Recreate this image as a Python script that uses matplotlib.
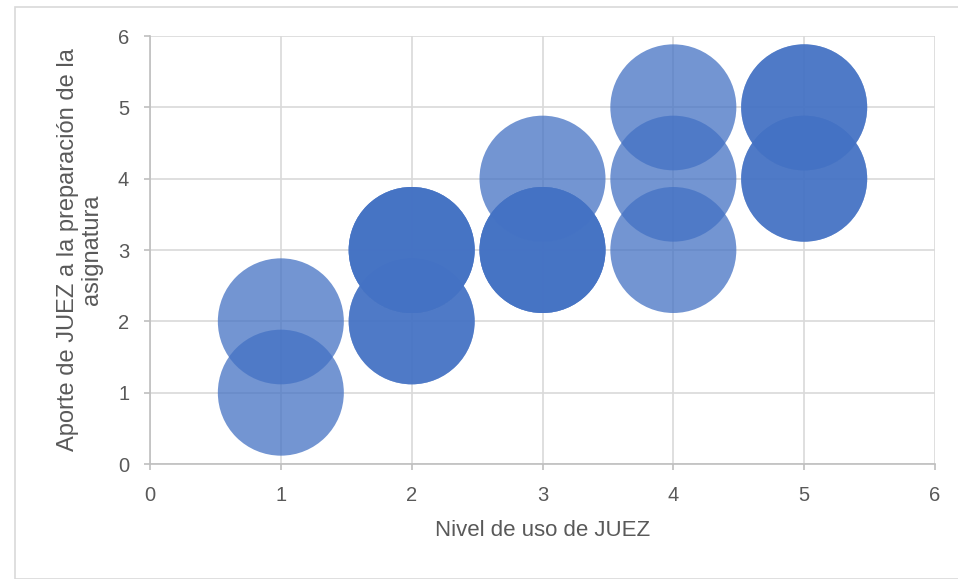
import matplotlib
matplotlib.use("Agg")
import matplotlib.pyplot as plt
from matplotlib.patches import Rectangle

# survey answers: usage level vs. contribution (repeated answers stack up)
nivel_uso = [1, 1, 2, 2, 2, 2, 2, 3, 3, 3, 3, 4, 4, 4, 5, 5, 5, 5]
aporte = [1, 2, 2, 2, 3, 3, 3, 3, 3, 3, 4, 3, 4, 5, 4, 4, 5, 5]
tamano = [1] * len(nivel_uso)

ticks = [0, 1, 2, 3, 4, 5, 6]
gris = "#595959"

plt.rcParams["font.family"] = ["Liberation Sans", "DejaVu Sans"]

fig = plt.figure(figsize=(9.58, 5.79), dpi=100)
ax = fig.add_axes([150 / 958, 1 - 464 / 579, 785 / 958, 428 / 579])

# bubble radius ~63 px -> area in points^2
r_pt = 63 * 72 / 100
ax.scatter(nivel_uso, aporte, s=[t * (2 * r_pt) ** 2 for t in tamano],
           color="#4472C4", alpha=0.75, linewidths=0, zorder=3)

ax.set_xlim(0, 6)
ax.set_ylim(0, 6)
ax.set_xticks(ticks)
ax.set_yticks(ticks)
ax.grid(True, color="#D9D9D9", linewidth=1.2, zorder=0)
ax.set_axisbelow(True)
for lado in ["top", "right"]:
    ax.spines[lado].set_visible(False)
for lado in ["left", "bottom"]:
    ax.spines[lado].set_color("#BFBFBF")
    ax.spines[lado].set_linewidth(1.2)
ax.tick_params(colors="#BFBFBF", labelcolor=gris, labelsize=14.5, length=4, width=1.2)
ax.tick_params(axis="y", pad=11)
ax.tick_params(axis="x", pad=12)

ax.set_xlabel("Nivel de uso de JUEZ", fontsize=16, color=gris, labelpad=11)
ax.set_ylabel("Aporte de JUEZ a la preparación de la\nasignatura", fontsize=17,
              color=gris, labelpad=11, linespacing=1.1)

# chart area frame
fig.patches.append(Rectangle((15 / 958, 0), 1, 1 - 7 / 579, transform=fig.transFigure,
                             fill=False, edgecolor="#D9D9D9", linewidth=1.2))

fig.savefig("out.png", dpi=100)
